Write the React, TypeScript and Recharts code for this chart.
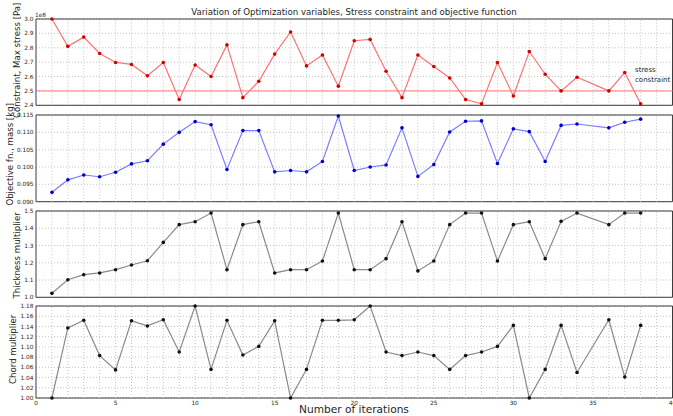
import { LineChart, Line, XAxis, YAxis, CartesianGrid, ReferenceLine, ReferenceArea } from "recharts";

const iterations = [1, 2, 3, 4, 5, 6, 7, 8, 9, 10, 11, 12, 13, 14, 15, 16, 17, 18, 19, 20, 21, 22, 23, 24, 25, 26, 27, 28, 29, 30, 31, 32, 33, 34, 36, 37, 38];
// max stress, in units of 1e8 Pa
const maxStress = [3.0, 2.81, 2.874, 2.76, 2.698, 2.684, 2.605, 2.698, 2.44, 2.68, 2.6, 2.82, 2.453, 2.567, 2.756, 2.91, 2.674, 2.75, 2.533, 2.849, 2.858, 2.637, 2.453, 2.75, 2.67, 2.59, 2.44, 2.41, 2.698, 2.465, 2.774, 2.616, 2.5, 2.595, 2.5, 2.628, 2.41];
const mass = [0.0927, 0.0963, 0.0977, 0.0972, 0.0985, 0.1009, 0.1018, 0.1066, 0.11, 0.1131, 0.1122, 0.0993, 0.1105, 0.1105, 0.0986, 0.099, 0.0986, 0.1016, 0.1147, 0.099, 0.1, 0.1006, 0.1113, 0.0973, 0.1007, 0.1101, 0.1132, 0.1133, 0.101, 0.111, 0.1102, 0.1016, 0.112, 0.1124, 0.1113, 0.1129, 0.1138];
const thickness = [1.023, 1.102, 1.131, 1.141, 1.16, 1.187, 1.212, 1.318, 1.421, 1.438, 1.488, 1.16, 1.421, 1.438, 1.141, 1.16, 1.16, 1.21, 1.488, 1.16, 1.16, 1.224, 1.438, 1.153, 1.21, 1.421, 1.488, 1.488, 1.21, 1.421, 1.438, 1.224, 1.44, 1.488, 1.421, 1.488, 1.488];
const chord = [1.0, 1.137, 1.152, 1.083, 1.055, 1.151, 1.141, 1.153, 1.09, 1.18, 1.056, 1.152, 1.084, 1.101, 1.151, 1.0, 1.056, 1.152, 1.152, 1.153, 1.18, 1.09, 1.083, 1.09, 1.083, 1.056, 1.083, 1.09, 1.101, 1.142, 1.0, 1.056, 1.142, 1.05, 1.153, 1.041, 1.142];

const xTicks = [0, 5, 10, 15, 20, 25, 30, 35, 40];
const stressTicks = [2.4, 2.5, 2.6, 2.7, 2.8, 2.9, 3.0];
const massTicks = [0.09, 0.095, 0.1, 0.105, 0.11, 0.115];
const thicknessTicks = [1.0, 1.1, 1.2, 1.3, 1.4, 1.5];
const chordTicks = [1.0, 1.02, 1.04, 1.06, 1.08, 1.1, 1.12, 1.14, 1.16, 1.18];
const stressLimit = 2.5;
const markedIteration = 9;

const data = iterations.map((it, i) => ({
  it,
  stress: maxStress[i],
  mass: mass[i],
  thickness: thickness[i],
  chord: chord[i],
}));

const minorX = Array.from({ length: 39 }, (_, i) => i + 1);
const FONT = "'DejaVu Sans', sans-serif";
const TEXT = "#262626";
const W = 673;

type PanelProps = {
  top: number;
  plotH: number;
  dataKey: string;
  ticks: number[];
  digits: number;
  lineColor: string;
  dotColor: string;
  showX?: boolean;
  children?: any;
};

function Panel({ top, plotH, dataKey, ticks, digits, lineColor, dotColor, showX, children }: PanelProps) {
  const pad = 5;
  const axisH = showX ? 12 : 0;
  const lo = ticks[0];
  const hi = ticks[ticks.length - 1];
  return (
    <div style={{ position: "absolute", left: 0, top: top - pad }}>
      <LineChart
        width={W}
        height={plotH + pad * 2 + axisH}
        data={data}
        margin={{ top: pad, right: 0.5, bottom: showX ? 0 : pad, left: 0 }}
      >
        <CartesianGrid vertical={false} stroke="#c4c4c4" strokeDasharray="1 2" />
        {minorX.map((x) => (
          <ReferenceLine key={x} x={x} stroke="#c4c4c4" strokeDasharray="1 2" />
        ))}
        <XAxis
          dataKey="it"
          type="number"
          domain={[0, 40]}
          ticks={xTicks}
          interval={0}
          hide={!showX}
          height={axisH}
          axisLine={false}
          tickLine={false}
          tickSize={0}
          tickMargin={3}
          tick={{ fontSize: 5.8, fill: TEXT, fontFamily: FONT }}
        />
        <YAxis
          type="number"
          domain={[lo, hi]}
          ticks={ticks}
          interval={0}
          width={36}
          axisLine={false}
          tickLine={false}
          tickSize={0}
          tickMargin={2.5}
          tickFormatter={(v: number) => v.toFixed(digits)}
          tick={{ fontSize: 5.8, fill: TEXT, fontFamily: FONT }}
        />
        {children}
        <Line
          type="linear"
          dataKey={dataKey}
          stroke={lineColor}
          strokeWidth={1.2}
          dot={{ r: 1.8, fill: dotColor, stroke: dotColor, strokeWidth: 0 }}
          activeDot={false}
          isAnimationActive={false}
        />
        <ReferenceArea x1={0} x2={40} y1={lo} y2={hi} fill="none" stroke="#3a3a3a" strokeWidth={1} fillOpacity={0} />
      </LineChart>
    </div>
  );
}

function YLabel({ text, cx, cy }: { text: string; cx: number; cy: number }) {
  const w = 200;
  return (
    <div
      style={{
        position: "absolute",
        left: cx - w / 2,
        top: cy - 4.3,
        width: w,
        height: 8.6,
        lineHeight: "8.6px",
        fontSize: 8.6,
        textAlign: "center",
        color: TEXT,
        transform: "rotate(-90deg)",
        whiteSpace: "nowrap",
      }}
    >
      {text}
    </div>
  );
}

export default function App() {
  return (
    <div
      style={{
        position: "absolute",
        left: 0,
        top: 0,
        width: W,
        height: 416,
        background: "#fff",
        overflow: "hidden",
        fontFamily: FONT,
      }}
    >
      <div style={{ position: "absolute", left: 0, top: 7, width: 708, textAlign: "center", fontSize: 8.6, color: TEXT }}>
        Variation of Optimization variables, Stress constraint and objective function
      </div>
      <div style={{ position: "absolute", left: 35, top: 12, fontSize: 5.8, color: TEXT }}>1e8</div>

      <Panel top={19} plotH={86.3} dataKey="stress" ticks={stressTicks} digits={1} lineColor="#ff7373" dotColor="#d00000">
        <ReferenceLine y={stressLimit} stroke="#ff7a7a" strokeWidth={1} />
      </Panel>
      <Panel top={115} plotH={86.7} dataKey="mass" ticks={massTicks} digits={3} lineColor="#7c7cff" dotColor="#0000cc" />
      <Panel top={210.7} plotH={86.3} dataKey="thickness" ticks={thicknessTicks} digits={1} lineColor="#8a8a8a" dotColor="#111" />
      <Panel top={306} plotH={87} dataKey="chord" ticks={chordTicks} digits={2} lineColor="#8a8a8a" dotColor="#111" showX />

      <div style={{ position: "absolute", left: 635, top: 66, fontSize: 7, lineHeight: "9.5px", color: TEXT }}>
        stress
        <br />
        constraint
      </div>

      <div style={{ position: "absolute", left: 0, top: 403, width: 708, textAlign: "center", fontSize: 10.6, lineHeight: "12px", color: TEXT }}>
        Number of iterations
      </div>

      <YLabel text="Constraint, Max stress [Pa]" cx={16.5} cy={60} />
      <YLabel text="Objective fn., mass [kg]" cx={10} cy={154} />
      <YLabel text="Thickness multiplier" cx={16.5} cy={255} />
      <YLabel text="Chord multiplier" cx={13} cy={349.5} />

      <div style={{ position: "absolute", left: 0, top: 0, pointerEvents: "none" }}>
        <LineChart width={W} height={416} data={data} margin={{ top: 19, right: 0.5, bottom: 23, left: 36 }}>
          <XAxis dataKey="it" type="number" domain={[0, 40]} hide />
          <YAxis type="number" domain={[0, 1]} hide />
          <ReferenceLine x={markedIteration} stroke="#333" strokeWidth={1} />
        </LineChart>
      </div>
    </div>
  );
}
